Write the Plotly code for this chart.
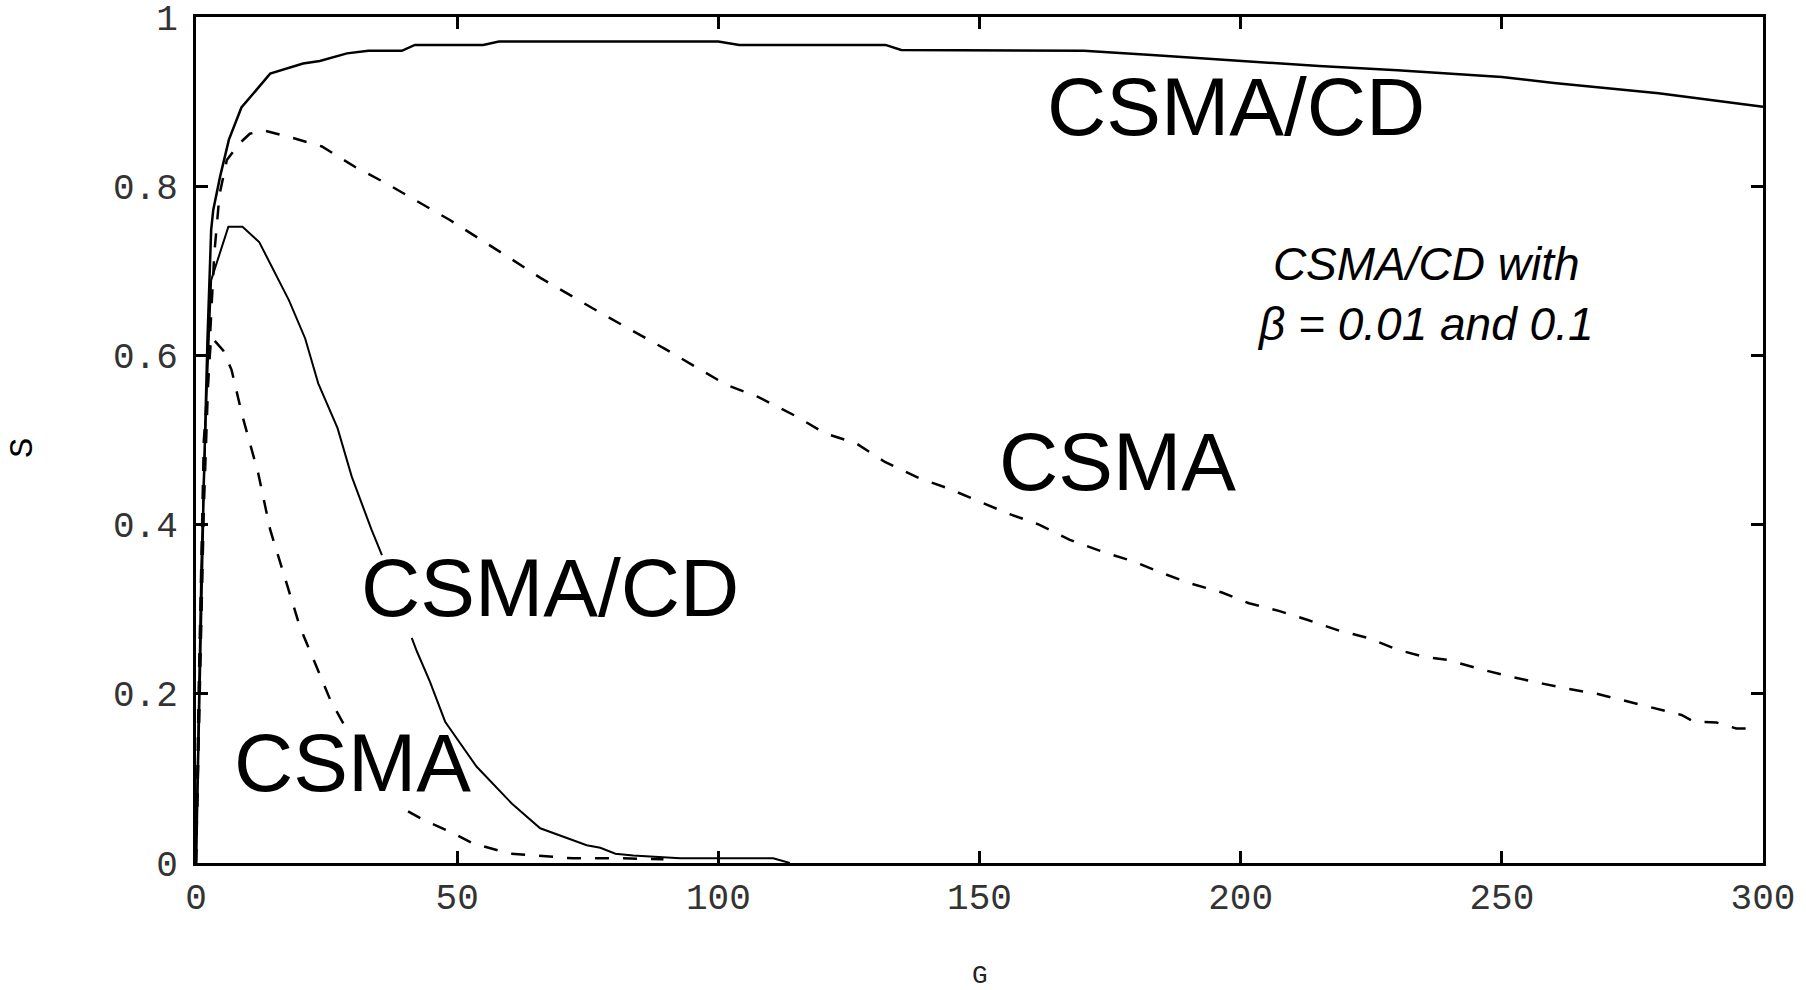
import plotly.graph_objects as go

# ---- data (G = offered load, S = throughput) ----
cd001_G = [0, 0.4, 0.8, 1.5, 2.2, 2.9, 3.3, 4.6, 6.3, 8.7, 14.2, 20.5, 23.7, 28.9, 33, 39.4, 41.9, 55, 58,
           100, 104, 132, 135, 170, 183, 190, 200, 215, 230, 240, 250, 260, 270, 280, 290, 300]
cd001_S = [0, 0.12, 0.25, 0.45, 0.62, 0.748, 0.772, 0.811, 0.855, 0.893, 0.933, 0.945, 0.948, 0.957, 0.960,
           0.960, 0.967, 0.967, 0.971, 0.971, 0.967, 0.967, 0.961, 0.960, 0.955, 0.952, 0.948, 0.942, 0.937,
           0.933, 0.929, 0.922, 0.916, 0.910, 0.902, 0.894]

csma001_G = [0, 0.5, 1.5, 2.5, 3.5, 4.5, 5.9, 8.4, 10.3, 12.9, 18, 24.1, 30.4, 36.5, 42.9, 48.6, 60.6, 66.1,
             78.1, 89.7, 101.6, 107.6, 114.9, 120.4, 126.4, 131.9, 138.4, 143.9, 155.5, 161.4, 167.3, 173.5,
             179.7, 185.3, 190.1, 196.3, 201.6, 207.3, 213, 218.7, 224.4, 230.1, 234.9, 239.7, 245.4, 251.1,
             257.8, 262.5, 268.2, 274, 279.7, 284.4, 286.8, 291.1, 294.9, 297.3]
csma001_S = [0, 0.15, 0.42, 0.6, 0.72, 0.79, 0.831, 0.851, 0.862, 0.866, 0.858, 0.847, 0.823, 0.803, 0.780,
             0.760, 0.713, 0.691, 0.648, 0.608, 0.565, 0.551, 0.528, 0.508, 0.496, 0.474, 0.455, 0.443, 0.413,
             0.400, 0.382, 0.368, 0.356, 0.342, 0.331, 0.320, 0.307, 0.298, 0.287, 0.275, 0.266, 0.252, 0.244,
             0.240, 0.230, 0.221, 0.212, 0.206, 0.200, 0.191, 0.183, 0.175, 0.167, 0.166, 0.159, 0.159]

# None marks where the curve is hidden behind a label
cd01_G = [0, 0.5, 1, 2, 2.9, 6.2, 8.9, 12.1, 17.8, 20.9, 23.4, 27.1, 29.8, 33.6, 35.6, None, 41.3, 42.3, 44.8,
          47.7, 53.7, 60.5, 65.9, 74.8, 77.4, 80.3, 83.7, 92.7, 110.5, 113.7]
cd01_S = [0, 0.18, 0.35, 0.55, 0.689, 0.752, 0.752, 0.734, 0.665, 0.620, 0.567, 0.514, 0.457, 0.394, 0.364,
          None, 0.266, 0.250, 0.214, 0.167, 0.114, 0.070, 0.041, 0.021, 0.018, 0.011, 0.009, 0.0055, 0.0055, 0]

csma01_G = [0, 0.5, 1.5, 2.9, 5.2, 6.8, 8.9, 10.3, 11.9, 14.2, 17.9, 19.9, 22.8, 25.7, 28.9, None, 40.6, 43.5,
            48.6, 53.1, 60.1, 65.9, 72.2, 81.8, 89.5]
csma01_S = [0, 0.2, 0.5, 0.622, 0.606, 0.583, 0.528, 0.496, 0.461, 0.394, 0.319, 0.279, 0.236, 0.193, 0.157,
            None, 0.061, 0.051, 0.037, 0.023, 0.011, 0.008, 0.0055, 0.0055, 0.0045]

x_ticks = [0, 50, 100, 150, 200, 250, 300]
y_ticks = [0, 0.2, 0.4, 0.6, 0.8, 1]
y_ticktext = ["0", "0.2", "0.4", "0.6", "0.8", "1"]

labels = [
    ("CSMA/CD", 199.2, 0.894),
    ("CSMA", 176.5, 0.475),
    ("CSMA/CD", 67.8, 0.326),
    ("CSMA", 30.0, 0.119),
]

fig = go.Figure()
fig.add_trace(go.Scatter(x=cd001_G, y=cd001_S, mode="lines", line=dict(color="black", width=2.5),
                         connectgaps=False, showlegend=False))
fig.add_trace(go.Scatter(x=csma001_G, y=csma001_S, mode="lines",
                         line=dict(color="black", width=2.5, dash="14px,14px"),
                         connectgaps=False, showlegend=False))
fig.add_trace(go.Scatter(x=cd01_G, y=cd01_S, mode="lines", line=dict(color="black", width=2),
                         connectgaps=False, showlegend=False))
fig.add_trace(go.Scatter(x=csma01_G, y=csma01_S, mode="lines",
                         line=dict(color="black", width=2.5, dash="14px,14px"),
                         connectgaps=False, showlegend=False))

annotations = []
for txt, gx, sy in labels:
    annotations.append(dict(x=gx, y=sy, xref="x", yref="y", text=txt, showarrow=False,
                            xanchor="center", yanchor="middle",
                            font=dict(family="Liberation Sans, Arial", size=82, color="black")))
annotations.append(dict(x=235.3, y=0.672, xref="x", yref="y",
                        text="<i>CSMA/CD with</i><br><i>β = 0.01 and 0.1</i>", showarrow=False,
                        xanchor="center", yanchor="middle",
                        font=dict(family="Liberation Sans, Arial", size=46, color="black")))
annotations.append(dict(x=0.5, y=-0.133, xref="paper", yref="paper", text="G", showarrow=False,
                        xanchor="center", yanchor="middle",
                        font=dict(family="Liberation Mono, Courier New", size=26, color="#222")))
annotations.append(dict(x=-0.11, y=0.49, xref="paper", yref="paper", text="S", showarrow=False,
                        textangle=-90, xanchor="center", yanchor="middle",
                        font=dict(family="Liberation Mono, Courier New", size=34, color="black")))

fig.update_layout(
    width=1806, height=990,
    margin=dict(l=196, r=43, t=17, b=127),
    paper_bgcolor="white", plot_bgcolor="white",
    annotations=annotations,
    showlegend=False,
)
fig.update_xaxes(range=[0, 300], tickvals=x_ticks, ticks="inside", ticklen=12, tickwidth=3,
                 tickcolor="black", showline=True, linewidth=3, linecolor="black", mirror="ticks",
                 showgrid=False, zeroline=False, automargin=False, ticklabeloverflow="allow",
                 tickfont=dict(family="Liberation Mono, Courier New", size=36, color="#333"))
fig.update_yaxes(range=[0, 1], tickvals=y_ticks, ticktext=y_ticktext, ticks="inside", ticklen=12,
                 tickwidth=3, tickcolor="black", showline=True, linewidth=3, linecolor="black",
                 mirror="ticks", showgrid=False, zeroline=False, ticklabelstandoff=8, automargin=False,
                 ticklabeloverflow="allow",
                 tickfont=dict(family="Liberation Mono, Courier New", size=36, color="#333"))

fig.write_html("out.html", config={"displayModeBar": False},
               post_script="document.body.style.margin='0';document.body.style.overflow='hidden';")
